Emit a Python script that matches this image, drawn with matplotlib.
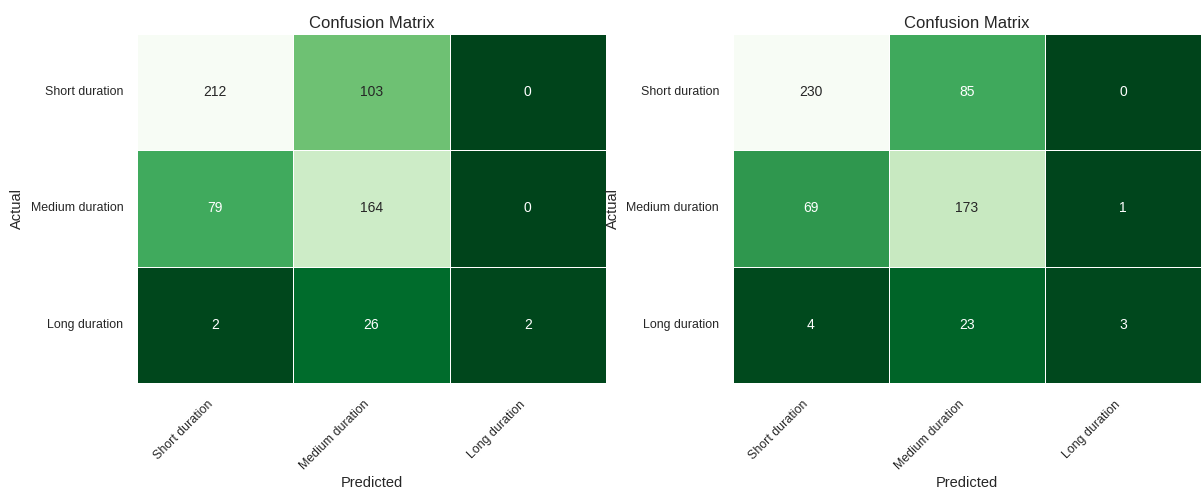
import matplotlib
matplotlib.use('Agg')
import matplotlib.pyplot as plt
import seaborn as sns
import numpy as np

plt.rcParams['font.family'] = ['Liberation Sans', 'DejaVu Sans']

# Etiquetas de clases
clases = ['Short duration', 'Medium duration', 'Long duration']

# Matrices de confusion de los dos modelos
cm_modelo_1 = np.array([[212, 103, 0],
                        [79, 164, 0],
                        [2, 26, 2]])
cm_modelo_2 = np.array([[230, 85, 0],
                        [69, 173, 1],
                        [4, 23, 3]])

fig = plt.figure(figsize=(12.01, 4.93), dpi=100)
ax1 = fig.add_axes([0.1141, 0.2231, 0.3905, 0.708])
ax2 = fig.add_axes([0.6103, 0.2231, 0.3897, 0.708])

for ax, cm in [(ax1, cm_modelo_1), (ax2, cm_modelo_2)]:
    sns.heatmap(cm, annot=True, fmt='d', cmap='Greens_r', cbar=False,
                linewidths=0.7, linecolor='white', ax=ax,
                xticklabels=clases, yticklabels=clases,
                annot_kws={'fontsize': 10})
    ax.set_title('Confusion Matrix', fontsize=12, color='#262626', pad=4)
    ax.set_xlabel('Predicted', fontsize=10.5, color='#262626', labelpad=3)
    ax.set_ylabel('Actual', fontsize=10.5, color='#262626', labelpad=5)
    ax.set_xticklabels(clases, rotation=45, ha='right',
                       fontsize=8.9, color='#262626')
    ax.set_yticklabels(clases, rotation=0, fontsize=8.9, color='#262626')
    ax.tick_params(axis='y', length=0, pad=10)
    ax.tick_params(axis='x', length=0, pad=11)

plt.savefig('out.png', dpi=100)
